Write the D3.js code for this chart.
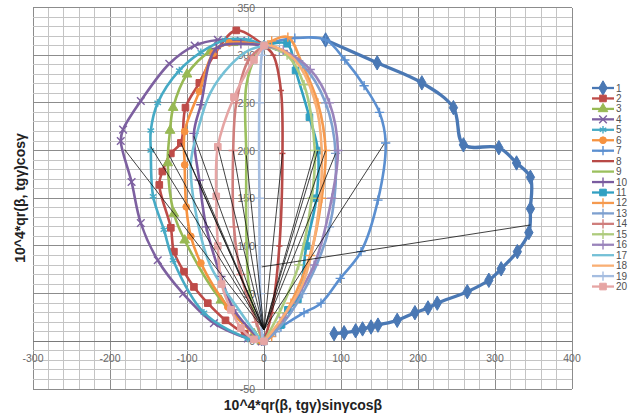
<!DOCTYPE html>
<html>
<head>
<meta charset="utf-8">
<script src="https://cdn.jsdelivr.net/npm/d3@7"></script>
<style>
  body { margin: 0; background: #fff; }
  svg { display: block; font-family: "Liberation Sans", Arial, sans-serif; }
</style>
</head>
<body>
<div id="chart"></div>
<script>
// Series labels (legend)
const seriesNames = ['1', '2', '3', '4', '5', '6', '7', '8', '9', '10',
  '11', '12', '13', '14', '15', '16', '17', '18', '19', '20'];

// Points, [x, y]
const s1 = [[80, 316], [147, 292], [205, 271], [246, 245], [259, 206], [305, 203], [328, 187], [346, 172],
  [346, 139], [344, 114], [329, 94], [308, 76], [292, 64], [264, 52], [225, 40], [213, 35], [196, 30],
  [173, 22], [148, 17], [139, 15], [128, 13], [119, 11], [104, 9], [91, 8]];
const s2 = [[-3, 0], [-25, 8], [-50, 22], [-73, 40], [-91, 57], [-104, 73], [-117, 94], [-121, 119],
  [-136, 164], [-132, 178], [-121, 197], [-108, 208], [-102, 245], [-84, 271], [-65, 300], [-36, 326], [0, 310]];
const s3 = [[-3, 0], [-13, 8], [-56, 43], [-103, 106], [-117, 134], [-125, 187], [-122, 221], [-118, 245],
  [-100, 280], [-70, 304], [-40, 313], [0, 310]];
const s4 = [[-3, 0], [-21, 3], [-65, 19], [-105, 50], [-138, 85], [-160, 124], [-172, 167], [-186, 210],
  [-183, 222], [-160, 252], [-123, 291], [-90, 310], [-60, 316], [-30, 315], [0, 310]];
const s5 = [[-3, 0], [-21, 3], [-78, 30], [-118, 85], [-130, 117], [-144, 152], [-147, 200], [-147, 221],
  [-138, 250], [-110, 284], [-82, 303], [-50, 316], [-20, 316], [0, 310]];
const s6 = [[-3, 0], [-47, 36], [-82, 82], [-95, 110], [-101, 141], [-103, 185], [-103, 220], [-84, 262],
  [-66, 302], [-45, 313], [0, 310]];
const s7 = [[0, 3], [22, 15], [52, 30], [74, 40], [99, 66], [126, 94], [148, 148], [158, 208], [150, 240],
  [130, 268], [105, 295], [80, 316], [40, 318], [0, 311]];
const s8 = [[0, 0], [10, 30], [20, 100], [24, 197], [22, 263], [12, 300], [0, 310]];
const s9 = [[-2, 0], [-10, 20], [-20, 60], [-23, 120], [-23, 193], [-23, 268], [-10, 300], [0, 310]];
const s10 = [[-3, 0], [-39, 33], [-56, 68], [-75, 120], [-84, 169], [-91, 218], [-82, 248], [-62, 307],
  [-30, 312], [0, 310]];
const s11 = [[0, 0], [22, 17], [31, 33], [44, 44], [55, 100], [68, 150], [70, 200], [59, 235], [41, 284],
  [30, 312], [0, 310]];
const s12 = [[0, 0], [10, 5], [35, 40], [60, 90], [75, 150], [80, 200], [70, 250], [50, 290], [31, 319],
  [10, 315], [0, 310]];
const s13 = [[0, 0], [15, 10], [50, 50], [85, 120], [93, 197], [80, 250], [50, 290], [20, 305], [0, 310]];
const s14 = [[0, 0], [-10, 20], [-30, 70], [-39, 120], [-40, 200], [-36, 250], [-20, 295], [0, 310]];
const s15 = [[0, 0], [20, 30], [45, 80], [62, 150], [66, 200], [52, 269], [30, 300], [0, 310]];
const s16 = [[0, 0], [25, 25], [65, 80], [88, 150], [96, 200], [85, 250], [60, 285], [25, 305], [0, 310]];
const s17 = [[-3, 0], [-30, 30], [-70, 80], [-90, 141], [-95, 187], [-86, 221], [-70, 260], [-43, 290],
  [-20, 305], [0, 310]];
const s18 = [[0, 0], [15, 15], [50, 60], [68, 120], [75, 200], [65, 255], [40, 295], [10, 310], [0, 310]];
const s19 = [[-2, 0], [-5, 50], [-6, 150], [-6, 250], [-3, 300], [0, 310]];
const s20 = [[0, 0], [-13, 2], [-30, 14], [-43, 33], [-55, 60], [-60, 100], [-62, 152], [-60, 204],
  [-39, 256], [-13, 295], [0, 310]];
const seriesPoints = [s1, s2, s3, s4, s5, s6, s7, s8, s9, s10, s11, s12, s13, s14, s15, s16, s17, s18, s19, s20];

// Thin black construction lines
const rayOrigin = [0, 12];
const rayEnds = [[-181, 201], [-147, 204], [-124, 196], [-108, 208], [-103, 200], [-91, 215], [-84, 169],
  [-60, 204], [-40, 200], [-23, 195], [24, 197], [66, 200], [70, 200], [80, 200], [93, 197], [156, 207]];
const chordLine = [[-3, 78], [346, 122]];

// Axis ticks
const xTicks = [-300, -200, -100, 0, 100, 200, 300, 400];
const yTicks = [-50, 0, 50, 100, 150, 200, 250, 300, 350];

const colors = ['#4a78b4', '#be4b48', '#98b954', '#7d60a0', '#46aac5', '#f69240', '#5b8fd0', '#b84a47',
  '#9bc05e', '#7a5ca0', '#31a0c2', '#f59a4f', '#7ea0cf', '#cf7e7c', '#aecb7d', '#9a84bb', '#74c0d6',
  '#f9af74', '#a5bde0', '#e6a5a4'];
const markers = ['diamond', 'square', 'triangle', 'x', 'star', 'circle', 'plus', 'dash', 'none', 'plus',
  'square', 'plus', 'plus', 'plus', 'plus', 'plus', 'none', 'none', 'plus', 'square'];

const W = 637, H = 418;
const x = d3.scaleLinear().domain([-300, 400]).range([33, 572]);
const y = d3.scaleLinear().domain([-50, 350]).range([389, 7.5]);

const svg = d3.select('#chart').append('svg').attr('width', W).attr('height', H);

// grid
const grid = svg.append('g');
grid.selectAll('.vminor').data(d3.range(-300, 401, 20)).enter().append('line')
  .attr('x1', d => x(d)).attr('x2', d => x(d)).attr('y1', y(-50)).attr('y2', y(350))
  .attr('stroke', d => d % 100 === 0 ? '#8c8c8c' : '#c4c4c4').attr('stroke-width', 1)
  .attr('shape-rendering', 'crispEdges');
grid.selectAll('.hminor').data(d3.range(-50, 351, 10)).enter().append('line')
  .attr('y1', d => y(d)).attr('y2', d => y(d)).attr('x1', x(-300)).attr('x2', x(400))
  .attr('stroke', d => d % 50 === 0 ? '#8c8c8c' : '#c4c4c4').attr('stroke-width', 1)
  .attr('shape-rendering', 'crispEdges');

// axes at zero
svg.append('line').attr('x1', x(0)).attr('x2', x(0)).attr('y1', y(-50)).attr('y2', y(350))
  .attr('stroke', '#7a7a7a').attr('shape-rendering', 'crispEdges');
svg.append('line').attr('y1', y(0)).attr('y2', y(0)).attr('x1', x(-300)).attr('x2', x(400))
  .attr('stroke', '#7a7a7a').attr('shape-rendering', 'crispEdges');

// tick labels
svg.append('g').selectAll('text').data(xTicks).enter().append('text')
  .attr('x', d => x(d)).attr('y', y(0) + 21)
  .attr('text-anchor', 'middle').attr('font-size', 10.5).attr('fill', '#6a6a6a')
  .text(d => d);
svg.append('g').selectAll('text').data(yTicks).enter().append('text')
  .attr('x', x(0) - 9).attr('y', d => y(d) + 4)
  .attr('text-anchor', 'end').attr('font-size', 10.5).attr('fill', '#6a6a6a')
  .text(d => d);

// axis titles
svg.append('text').attr('transform', `translate(25,198) rotate(-90)`)
  .attr('text-anchor', 'middle').attr('font-size', 14).attr('font-weight', 'bold').attr('fill', '#222')
  .text('10^4*qr(β, tgγ)cosγ');
svg.append('text').attr('x', 303).attr('y', 410)
  .attr('text-anchor', 'middle').attr('font-size', 14).attr('font-weight', 'bold').attr('fill', '#222')
  .text('10^4*qr(β, tgγ)sinγcosβ');

// markers
function symbolFor(type) {
  switch (type) {
    case 'diamond': return { t: d3.symbolDiamond, s: 60, fill: true };
    case 'square': return { t: d3.symbolSquare, s: 44, fill: true };
    case 'triangle': return { t: d3.symbolTriangle, s: 40, fill: true };
    case 'circle': return { t: d3.symbolCircle, s: 36, fill: true };
    case 'x': return { t: d3.symbolX || d3.symbolCross, s: 40, fill: false };
    case 'star': return { t: d3.symbolAsterisk || d3.symbolStar, s: 40, fill: false };
    case 'plus': return { t: d3.symbolPlus || d3.symbolCross, s: 30, fill: false };
    default: return null;
  }
}
function drawMarker(g, type, color, px, py) {
  if (type === 'dash') {
    g.append('line').attr('x1', px - 3).attr('x2', px + 3).attr('y1', py).attr('y2', py)
      .attr('stroke', color).attr('stroke-width', 1.5);
    return;
  }
  const sym = symbolFor(type);
  if (!sym) return;
  g.append('path').attr('d', d3.symbol().type(sym.t).size(sym.s)())
    .attr('transform', `translate(${px},${py})`)
    .attr('fill', sym.fill ? color : 'none')
    .attr('stroke', color).attr('stroke-width', sym.fill ? 1 : 1.4);
}

const line = d3.line().x(d => x(d[0])).y(d => y(d[1])).curve(d3.curveCatmullRom.alpha(0.5));

const plot = svg.append('g');
seriesPoints.forEach((pts, i) => {
  const g = plot.append('g');
  g.append('path').datum(pts).attr('d', line).attr('fill', 'none')
    .attr('stroke', colors[i]).attr('stroke-width', i === 0 ? 3.3 : 2.6).attr('stroke-linejoin', 'round');
  pts.forEach(p => drawMarker(g, markers[i], colors[i], x(p[0]), y(p[1])));
});

// construction lines
const rays = svg.append('g').attr('stroke', '#111').attr('stroke-width', 0.8);
rays.selectAll('line').data(rayEnds).enter().append('line')
  .attr('x1', x(rayOrigin[0])).attr('y1', y(rayOrigin[1]))
  .attr('x2', d => x(d[0])).attr('y2', d => y(d[1]));
rays.append('line').attr('x1', x(chordLine[0][0])).attr('y1', y(chordLine[0][1]))
  .attr('x2', x(chordLine[1][0])).attr('y2', y(chordLine[1][1]));

// legend
const legend = svg.append('g');
seriesNames.forEach((name, i) => {
  const ly = 88 + i * 10.45;
  const g = legend.append('g');
  g.append('line').attr('x1', 592).attr('x2', 614).attr('y1', ly).attr('y2', ly)
    .attr('stroke', colors[i]).attr('stroke-width', 2.3);
  drawMarker(g, markers[i], colors[i], 603, ly);
  g.append('text').attr('x', 616).attr('y', ly + 3.5).attr('font-size', 10).attr('fill', '#505050').text(name);
});
</script>
</body>
</html>
